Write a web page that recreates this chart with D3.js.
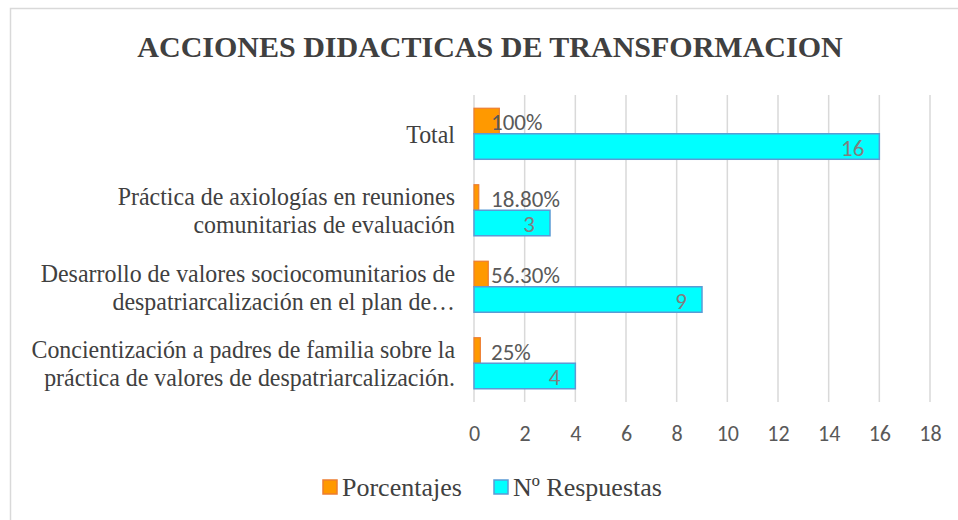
<!DOCTYPE html>
<html>
<head>
<meta charset="utf-8">
<script src="https://cdn.jsdelivr.net/npm/d3@7"></script>
<style>
  body { margin: 0; background: #fff; }
  svg { display: block; }
</style>
</head>
<body>
<div id="chart"></div>
<script>
// categories, top to bottom, with the wrapped lines shown on the chart
const categories = ["Total", "Práctica", "Desarrollo", "Concientización"];
const categoryLines = [
    ["Total"],
    ["Práctica de axiologías en reuniones", "comunitarias de evaluación"],
    ["Desarrollo de valores sociocomunitarios de", "despatriarcalización en el plan de…"],
    ["Concientización a padres de familia sobre la", "práctica de valores de despatriarcalización."]
];
const porcentajes = [1, 0.188, 0.563, 0.25];
const porcentajeLabels = ["100%", "18.80%", "56.30%", "25%"];
const respuestas = [16, 3, 9, 4];
const xTicks = [0, 2, 4, 6, 8, 10, 12, 14, 16, 18];
const seriesNames = ["Porcentajes", "Nº Respuestas"];

const W = 958, H = 520;
const serif = "'Liberation Serif', 'Times New Roman', serif";
const sans = "Carlito, Lato, 'Open Sans', sans-serif";

const svg = d3.select("#chart").append("svg")
    .attr("width", W)
    .attr("height", H);

// outer border (runs off the right and bottom edge like the picture)
svg.append("rect")
    .attr("x", 10.5).attr("y", 8.5)
    .attr("width", W).attr("height", H)
    .attr("fill", "#fff")
    .attr("stroke", "#d9d9d9")
    .attr("stroke-width", 1.5);

// title
svg.append("text")
    .attr("x", 490).attr("y", 57)
    .attr("text-anchor", "middle")
    .attr("fill", "#404040")
    .style("font", "bold 30px " + serif)
    .text("ACCIONES DIDACTICAS DE TRANSFORMACION");

// scales
let x = d3.scaleLinear().domain([0, 18]).range([474, 930]);
let y = d3.scaleBand().domain(categories).range([95.5, 401.5])
    .paddingInner(0.333).paddingOuter(0.1667);
let sub = d3.scaleBand().domain(seriesNames).range([0, y.bandwidth()]);

// gridlines
svg.append("g").selectAll("line")
    .data(xTicks)
    .enter().append("line")
    .attr("x1", d => x(d)).attr("x2", d => x(d))
    .attr("y1", 95).attr("y2", 402)
    .attr("stroke", "#d9d9d9")
    .attr("stroke-width", 1.5);

// x axis labels
let xAxis = d3.axisBottom(x).tickValues(xTicks).tickSize(0).tickPadding(0);
let gx = svg.append("g")
    .attr("transform", "translate(0,433)")
    .call(xAxis);
gx.select(".domain").remove();
gx.selectAll("text")
    .attr("fill", "#595959")
    .attr("dy", "0.35em")
    .style("font", "22px " + sans);

// category labels, slightly condensed like the original
let catG = svg.append("g")
    .attr("transform", "translate(455,0) scale(0.92,1)");
let cat = catG.selectAll("text")
    .data(categories)
    .enter().append("text")
    .attr("text-anchor", "end")
    .attr("fill", "#404040")
    .style("font", "26px " + serif);
cat.each(function(d, i) {
    let lines = categoryLines[i];
    let cy = y(d) + y.bandwidth() / 2;
    lines.forEach((ln, j) => {
        d3.select(this).append("tspan")
            .attr("x", 0)
            .attr("y", cy + (j - (lines.length - 1) / 2) * 28)
            .attr("dy", "0.35em")
            .text(ln);
    });
});

// orange bars
svg.append("g").selectAll("rect")
    .data(porcentajes)
    .enter().append("rect")
    .attr("x", x(0))
    .attr("y", (d, i) => y(categories[i]) + sub("Porcentajes"))
    .attr("width", d => x(d) - x(0))
    .attr("height", sub.bandwidth())
    .attr("fill", "#ff9900")
    .attr("stroke", "#ed7d31")
    .attr("stroke-width", 1.2);

// cyan bars
svg.append("g").selectAll("rect")
    .data(respuestas)
    .enter().append("rect")
    .attr("x", x(0))
    .attr("y", (d, i) => y(categories[i]) + sub("Nº Respuestas"))
    .attr("width", d => x(d) - x(0))
    .attr("height", sub.bandwidth())
    .attr("fill", "#00ffff")
    .attr("stroke", "#5b9bd5")
    .attr("stroke-width", 1.5);

// percentage labels
svg.append("g").selectAll("text")
    .data(porcentajeLabels)
    .enter().append("text")
    .attr("x", x(0) + 17)
    .attr("y", (d, i) => y(categories[i]) + sub("Porcentajes") + sub.bandwidth() / 2 + 1)
    .attr("dy", "0.35em")
    .attr("fill", "#595959")
    .style("font", "23px " + sans)
    .text(d => d);

// response labels (inside end)
svg.append("g").selectAll("text")
    .data(respuestas)
    .enter().append("text")
    .attr("x", d => x(d) - 15)
    .attr("y", (d, i) => y(categories[i]) + sub("Nº Respuestas") + sub.bandwidth() / 2 + 1)
    .attr("dy", "0.35em")
    .attr("text-anchor", "end")
    .attr("fill", "#7f7f7f")
    .style("font", "23px " + sans)
    .text(d => d);

// legend
let legend = svg.append("g").attr("transform", "translate(0,487)");
let legendX = [323, 494];
let legendFill = ["#ff9900", "#00ffff"];
let legendStroke = ["#ed7d31", "#5b9bd5"];
seriesNames.forEach((s, i) => {
    legend.append("rect")
        .attr("x", legendX[i]).attr("y", -7)
        .attr("width", 14).attr("height", 14)
        .attr("fill", legendFill[i])
        .attr("stroke", legendStroke[i])
        .attr("stroke-width", 1.5);
    legend.append("text")
        .attr("x", legendX[i] + 19).attr("y", 0)
        .attr("dy", "0.35em")
        .attr("fill", "#404040")
        .style("font", "26px " + serif)
        .text(s);
});
</script>
</body>
</html>
